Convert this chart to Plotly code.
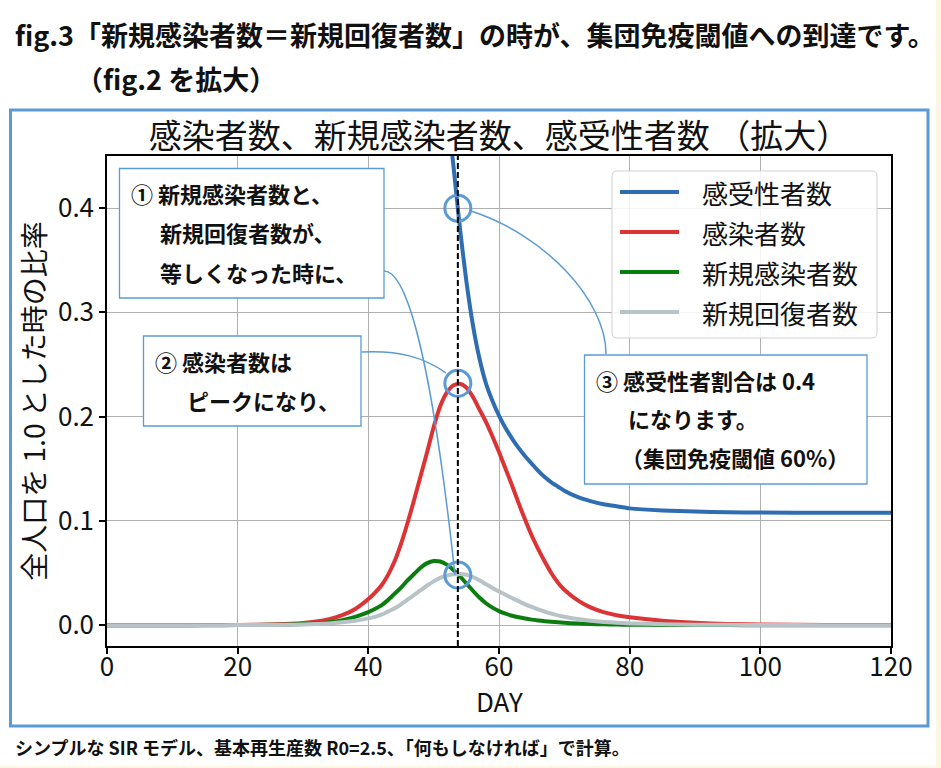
import plotly.graph_objects as go

# ---------------- data ----------------
days = [0, 5, 10, 15, 20, 25, 28, 30, 32, 34, 36, 38,
        40, 41, 42, 43, 44, 45, 46, 47, 48, 49, 50, 51, 52, 53, 54, 55,
        56, 57, 58, 59, 60, 61, 62, 63, 64, 65, 66, 67, 68, 69, 70,
        72, 74, 76, 78, 80, 85, 90, 95, 100, 110, 120]

susceptible = [1.0, 1.0, 1.0, 1.0, 1.0, 0.9999, 0.9998, 0.9996, 0.9992, 0.9985, 0.997, 0.993,
               0.983, 0.973, 0.958, 0.937, 0.910, 0.876, 0.836, 0.790, 0.738, 0.680, 0.620, 0.560,
               0.500, 0.442, 0.382, 0.330,
               0.288, 0.256, 0.232, 0.215, 0.201, 0.189, 0.179, 0.170, 0.162, 0.155, 0.148, 0.142,
               0.137, 0.133, 0.129,
               0.123, 0.119, 0.116, 0.114, 0.112, 0.110, 0.109, 0.1083, 0.108, 0.1078, 0.1077]

infected = [0.0, 0.0, 0.0, 0.00004, 0.00015, 0.0006, 0.0013, 0.0021, 0.0035, 0.0058, 0.0095, 0.0155,
            0.025, 0.031, 0.038, 0.048, 0.061, 0.078, 0.098, 0.120, 0.143, 0.166, 0.190, 0.210,
            0.223, 0.230, 0.2315, 0.228,
            0.219, 0.207, 0.195, 0.181, 0.166, 0.150, 0.134, 0.117, 0.101, 0.086, 0.073, 0.061,
            0.050, 0.041, 0.034,
            0.024, 0.017, 0.0125, 0.0095, 0.0075, 0.0042, 0.0023, 0.0012, 0.0006, 0.0002, 0.00005]

new_infected = [0.0, 0.0, 0.0, 0.0, 0.00005, 0.0003, 0.0006, 0.001, 0.0017, 0.0029, 0.0048, 0.0080,
                0.0125, 0.0155, 0.019, 0.024, 0.030, 0.036, 0.043, 0.049, 0.055, 0.0595, 0.0615, 0.061,
                0.058, 0.053, 0.047, 0.040,
                0.033, 0.0265, 0.021, 0.0168, 0.0135, 0.011, 0.009, 0.0075, 0.0063, 0.0053, 0.0045, 0.0038,
                0.0032, 0.0027, 0.0023,
                0.0016, 0.0011, 0.0008, 0.0006, 0.0004, 0.0002, 0.0001, 0.00005, 0.0, 0.0, 0.0]

new_recovered = [0.0, 0.0, 0.0, 0.0, 0.00003, 0.0001, 0.0003, 0.0006, 0.001, 0.0017, 0.0027, 0.0042,
                 0.0065, 0.008, 0.010, 0.013, 0.016, 0.020, 0.0245, 0.029, 0.0335, 0.038, 0.042, 0.0453,
                 0.0475, 0.0487, 0.049, 0.0484,
                 0.0462, 0.0430, 0.0393, 0.0357, 0.0323, 0.0291, 0.026, 0.023, 0.020, 0.0175, 0.0151, 0.0130,
                 0.0111, 0.0094, 0.0080,
                 0.0058, 0.0042, 0.0031, 0.0023, 0.0017, 0.0009, 0.0005, 0.0003, 0.0001, 0.0, 0.0]

series_names = ["感受性者数", "感染者数", "新規感染者数", "新規回復者数"]
series_colors = ["#2f6db3", "#dc3434", "#0b7d0f", "#b8c3c8"]

peak_day = 53.7
marked_values = [0.4, 0.232, 0.048]

x_ticks = [0, 20, 40, 60, 80, 100, 120]
y_ticks = [0.0, 0.1, 0.2, 0.3, 0.4]
y_tick_labels = ["0.0", "0.1", "0.2", "0.3", "0.4"]

# ---------------- layout helpers (pixel -> paper) ----------------
W, H = 941, 768
PL, PR, PT, PB = 107, 891, 156, 646


def fx(px):
    return (px - PL) / (PR - PL)


def fy(py):
    return (PB - py) / (PB - PT)


def P(px, py):
    return f"{fx(px):.5f},{fy(py):.5f}"


FONT = "Noto Sans CJK JP"
BOXBLUE = "#5b9bd5"
TXT = "#111111"

fig = go.Figure()
for vals, name, col in zip([susceptible, infected, new_infected, new_recovered],
                           series_names, series_colors):
    fig.add_trace(go.Scatter(x=days, y=vals, name=name, mode="lines",
                             line=dict(color=col, width=4, shape="spline", smoothing=0.6),
                             showlegend=False, hoverinfo="skip"))

fig.add_trace(go.Scatter(x=[peak_day] * len(marked_values), y=marked_values, mode="markers",
                         marker=dict(symbol="circle-open", size=26, color=BOXBLUE,
                                     line=dict(width=3, color=BOXBLUE)),
                         showlegend=False, hoverinfo="skip"))

shapes = []
annotations = []

# cream strips at the page edges
shapes.append(dict(type="rect", xref="paper", yref="paper", x0=fx(936), x1=fx(945),
                   y0=fy(772), y1=fy(-4), fillcolor="#fdf6e3", line=dict(width=0), layer="below"))
shapes.append(dict(type="rect", xref="paper", yref="paper", x0=fx(-4), x1=fx(945),
                   y0=fy(772), y1=fy(766), fillcolor="#fdf6e3", line=dict(width=0), layer="below"))

# blue frame
shapes.append(dict(type="rect", xref="paper", yref="paper", x0=fx(10.5), x1=fx(928),
                   y0=fy(726), y1=fy(110), line=dict(color=BOXBLUE, width=3),
                   fillcolor="rgba(0,0,0,0)", layer="above"))

# dashed vertical line
shapes.append(dict(type="line", xref="x", yref="paper", x0=peak_day, x1=peak_day, y0=0, y1=1,
                   line=dict(color="black", width=2, dash="6px,3px"), layer="above"))

# connectors
for path in [
    f"M {P(384, 271)} C {P(405, 271)} {P(430, 345)} {P(455, 575)}",
    f"M {P(362, 352)} C {P(400, 350)} {P(425, 358)} {P(446, 373)}",
    f"M {P(471, 211)} C {P(545, 235)} {P(606, 300)} {P(606, 354)}",
]:
    shapes.append(dict(type="path", xref="paper", yref="paper", path=path,
                       line=dict(color=BOXBLUE, width=1.5), layer="above"))

# legend box (rounded) drawn manually
lx0, lx1, ly0, ly1, r = 612, 877, 171, 338, 5
legend_path = (f"M {P(lx0 + r, ly0)} L {P(lx1 - r, ly0)} Q {P(lx1, ly0)} {P(lx1, ly0 + r)} "
               f"L {P(lx1, ly1 - r)} Q {P(lx1, ly1)} {P(lx1 - r, ly1)} "
               f"L {P(lx0 + r, ly1)} Q {P(lx0, ly1)} {P(lx0, ly1 - r)} "
               f"L {P(lx0, ly0 + r)} Q {P(lx0, ly0)} {P(lx0 + r, ly0)} Z")
shapes.append(dict(type="path", xref="paper", yref="paper", path=legend_path,
                   fillcolor="rgba(255,255,255,0.85)", line=dict(color="#d0d0d0", width=1),
                   layer="above"))
for i, (name, col) in enumerate(zip(series_names, series_colors)):
    yy = 192 + 40 * i
    shapes.append(dict(type="line", xref="paper", yref="paper", x0=fx(620), x1=fx(679),
                       y0=fy(yy), y1=fy(yy), line=dict(color=col, width=4), layer="above"))
    annotations.append(dict(xref="paper", yref="paper", x=fx(700), y=fy(yy), text=name,
                            showarrow=False, xanchor="left", yanchor="middle",
                            font=dict(family=FONT, size=26, color=TXT)))

# annotation boxes
for (x0, x1, y0, y1) in [(119.5, 384, 168.5, 298), (143.5, 361, 336, 426), (584.5, 867, 355, 484)]:
    shapes.append(dict(type="rect", xref="paper", yref="paper", x0=fx(x0), x1=fx(x1),
                       y0=fy(y1), y1=fy(y0), fillcolor="white",
                       line=dict(color=BOXBLUE, width=1.3), layer="above"))

box_lines = [
    ("① 新規感染者数と、", 129, 193),
    ("新規回復者数が、", 158, 232),
    ("等しくなった時に、", 158, 272),
    ("② 感染者数は", 153, 361),
    ("ピークになり、", 185, 400),
    ("③ 感受性者割合は 0.4", 594, 380),
    ("になります。", 626, 418),
    ("（集団免疫閾値 60%）", 619, 457),
]
for txt, px, py in box_lines:
    annotations.append(dict(xref="paper", yref="paper", x=fx(px), y=fy(py), text=f"<b>{txt}</b>",
                            showarrow=False, xanchor="left", yanchor="middle",
                            font=dict(family=FONT, size=22, color=TXT)))

# x-axis title placed precisely
annotations.append(dict(xref="paper", yref="paper", x=0.5, y=fy(700), text="DAY",
                        showarrow=False, xanchor="center", yanchor="middle", borderpad=0,
                        font=dict(family=FONT, size=26, color=TXT)))

# header / footer text
annotations.append(dict(xref="paper", yref="paper", x=fx(13), y=fy(35),
                        text="<b>fig.3「新規感染者数＝新規回復者数」の時が、集団免疫閾値への到達です。</b>",
                        showarrow=False, xanchor="left", yanchor="middle",
                        font=dict(family=FONT, size=27, color=TXT)))
annotations.append(dict(xref="paper", yref="paper", x=fx(74), y=fy(78),
                        text="<b>（fig.2 を拡大）</b>",
                        showarrow=False, xanchor="left", yanchor="middle",
                        font=dict(family=FONT, size=27, color=TXT)))
annotations.append(dict(xref="paper", yref="paper", x=fx(13), y=fy(747),
                        text="<b>シンプルな SIR モデル、基本再生産数 R0=2.5、「何もしなければ」で計算。</b>",
                        showarrow=False, xanchor="left", yanchor="middle",
                        font=dict(family=FONT, size=18, color=TXT)))

fig.update_layout(
    width=W, height=H,
    margin=dict(l=PL, r=W - PR, t=PT, b=H - PB),
    paper_bgcolor="white", plot_bgcolor="white",
    showlegend=False,
    font=dict(family=FONT, color=TXT),
    title=dict(text="感染者数、新規感染者数、感受性者数 （拡大）", x=0.5, xref="paper",
               y=1 - 136 / H, yref="container", xanchor="center", yanchor="middle",
               font=dict(family=FONT, size=33, color=TXT)),
    shapes=shapes,
    annotations=annotations,
    xaxis=dict(range=[0, 120], tickvals=x_ticks, showgrid=True, gridcolor="#b0b0b0", gridwidth=1,
               zeroline=False, showline=True, mirror=True, linecolor="black", linewidth=1.5,
               ticks="outside", ticklen=6, tickwidth=1.5, tickcolor="black",
               ticklabelstandoff=-9,
               tickfont=dict(family=FONT, size=26, color=TXT)),
    yaxis=dict(range=[-0.02, 0.45], tickvals=y_ticks, ticktext=y_tick_labels, showgrid=True,
               gridcolor="#b0b0b0", gridwidth=1, zeroline=False, showline=True, mirror=True,
               linecolor="black", linewidth=1.5, ticks="outside", ticklen=6, tickwidth=1.5,
               tickcolor="black", tickfont=dict(family=FONT, size=26, color=TXT),
               title=dict(text="全人口を 1.0 とした時の比率",
                          font=dict(family=FONT, size=28, color=TXT), standoff=4)),
)

fig.write_html("out.html")
